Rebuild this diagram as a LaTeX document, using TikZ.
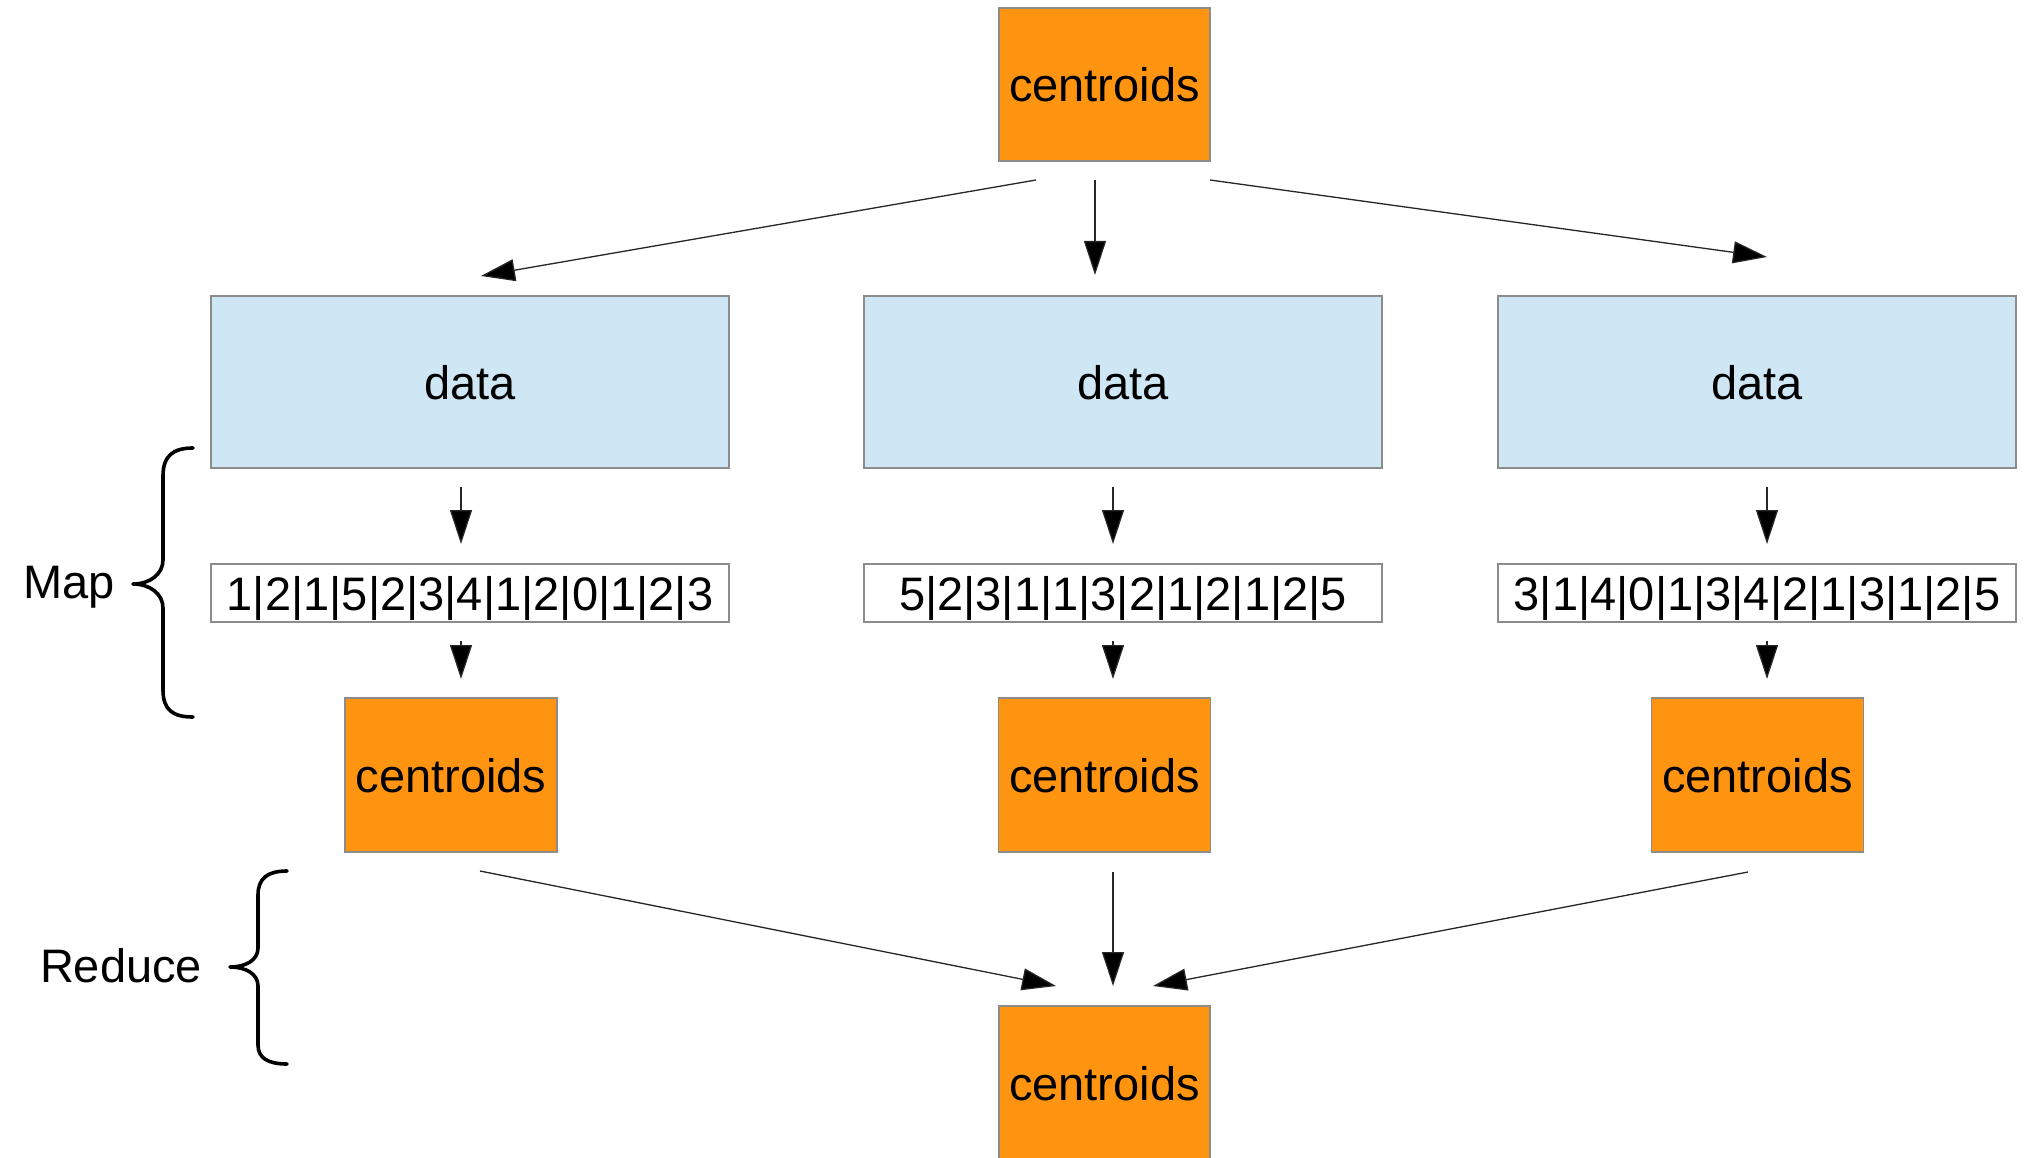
\documentclass[tikz,border=0pt]{standalone}
\usepackage{fontspec}
\setmainfont{Liberation Sans}
\usetikzlibrary{arrows.meta}
\definecolor{centroidorange}{RGB}{255,148,17}
\definecolor{datablue}{RGB}{207,231,245}
\definecolor{boxborder}{RGB}{140,140,140}
\begin{document}
\begin{tikzpicture}[
  x=1pt, y=-1pt,
  every node/.style={font=\fontsize{47}{56}\selectfont, text height=34pt, text depth=0pt,
                     inner sep=0pt, outer sep=0pt},
  box/.style={rectangle, draw=boxborder, line width=1.5pt},
  centroidbox/.style={box, fill=centroidorange, minimum width=211pt, minimum height=153pt},
  databox/.style={box, fill=datablue, minimum width=518pt, minimum height=172pt},
  stripbox/.style={box, fill=white, minimum width=518pt, minimum height=58pt},
  flow/.style={draw=black!85, line width=1.3pt, -{Triangle[length=34pt,width=22pt,fill=black]}},
  bracepath/.style={draw=black, line width=3.6pt, line cap=round, line join=round}
]
\useasboundingbox (0,0) rectangle (2031,1158);
\clip (0,0) rectangle (2031,1158);

% initial centroids
\node[centroidbox] (c0) at (1104.5,84.5) {centroids};

% data partitions
\node[databox] (d1) at (470,382) {data};
\node[databox] (d2) at (1123,382) {data};
\node[databox] (d3) at (1757,382) {data};

% cluster assignments
\node[stripbox] (s1) at (470,593) {1|2|1|5|2|3|4|1|2|0|1|2|3};
\node[stripbox] (s2) at (1123,593) {5|2|3|1|1|3|2|1|2|1|2|5};
\node[stripbox] (s3) at (1757,593) {3|1|4|0|1|3|4|2|1|3|1|2|5};

% partial centroids
\node[centroidbox, minimum width=212pt, minimum height=154pt] (m1) at (451,775) {centroids};
\node[centroidbox, minimum width=212pt, minimum height=154pt] (m2) at (1104.5,775) {centroids};
\node[centroidbox, minimum width=212pt, minimum height=154pt] (m3) at (1757.5,775) {centroids};

% merged centroids
\node[centroidbox, minimum height=154pt] (b) at (1104.5,1083) {centroids};

% broadcast of centroids
\draw[flow] ([shift={(-68.5,19)}]c0.south) -- ([shift={(11,-20)}]d1.north);
\draw[flow] ([shift={(-9.5,19)}]c0.south) -- ([shift={(-28,-21)}]d2.north);
\draw[flow] ([shift={(105.5,19)}]c0.south) -- ([shift={(10,-39)}]d3.north);

% map: data -> assignments
\draw[flow] ([shift={(-9,19)}]d1.south) -- ([shift={(-9,-20)}]s1.north);
\draw[flow] ([shift={(-10,19)}]d2.south) -- ([shift={(-10,-20)}]s2.north);
\draw[flow] ([shift={(10,19)}]d3.south) -- ([shift={(10,-20)}]s3.north);

% map: assignments -> partial centroids
\draw[flow] ([shift={(-9,19)}]s1.south) -- ([shift={(10,-19)}]m1.north);
\draw[flow] ([shift={(-10,19)}]s2.south) -- ([shift={(8.5,-19)}]m2.north);
\draw[flow] ([shift={(10,19)}]s3.south) -- ([shift={(9.5,-19)}]m3.north);

% reduce
\draw[flow] ([shift={(29,19)}]m1.south) -- ([shift={(-48.5,-20)}]b.north);
\draw[flow] ([shift={(8.5,20)}]m2.south) -- ([shift={(8.5,-20)}]b.north);
\draw[flow] ([shift={(-9.5,20)}]m3.south) -- ([shift={(48.5,-20)}]b.north);

% phase labels and braces
\node (maplabel) at (69,581.5) {Map};
\node (reducelabel) at (121,965) {Reduce};

\draw[bracepath] (193,448) .. controls (173,448) and (163,456) .. (163,476)
  -- (163,560) .. controls (163,574) and (150,584) .. (133,584)
  .. controls (150,584) and (163,594) .. (163,608)
  -- (163,690) .. controls (163,710) and (173,717) .. (193,717);

\draw[bracepath] (287,871) .. controls (268,871) and (258,878) .. (258,895)
  -- (258,948) .. controls (258,960) and (246,967) .. (230,967)
  .. controls (246,967) and (258,974) .. (258,986)
  -- (258,1045) .. controls (258,1058) and (268,1064) .. (287,1064);
\end{tikzpicture}
\end{document}
